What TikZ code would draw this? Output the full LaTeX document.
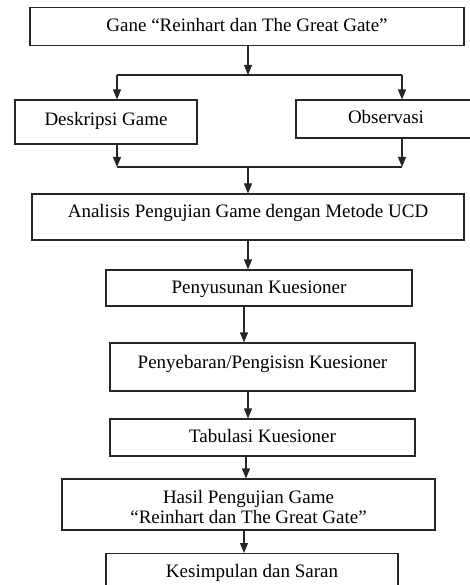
\documentclass[tikz,border=0pt]{standalone}
\usepackage{fontspec}
\setmainfont{Liberation Serif}
\usetikzlibrary{arrows.meta}
\begin{document}
\begin{tikzpicture}[x=1pt,y=-1pt,
  box/.style={draw=black!85,line width=1.1pt,rectangle,inner sep=0pt,align=center,font=\fontsize{19}{21}\selectfont,text height=13pt,text depth=3pt},
  flow/.style={draw=black!85,line width=1.1pt,-{Triangle[length=10pt,width=8pt]}},
  seg/.style={draw=black!85,line width=1.1pt}]
\useasboundingbox (0,0) rectangle (470,585);
\clip (0,0) rectangle (470,585);
\fill[white] (0,0) rectangle (470,585);
\node[box,minimum width=434pt,minimum height=38pt] (gane) at (247,26.5) {Gane “Reinhart dan The Great Gate”};
\node[box,minimum width=182pt,minimum height=44pt,text depth=5pt] (desk) at (106,122) {Deskripsi Game};
\node[box,minimum width=180pt,minimum height=38pt] (obs) at (386,119) {Observasi};
\node[box,minimum width=432pt,minimum height=46pt,text depth=13pt] (anal) at (248,217) {Analisis Pengujian Game dengan Metode UCD};
\node[box,minimum width=306pt,minimum height=36pt] (susun) at (259,288) {Penyusunan Kuesioner};
\node[box,minimum width=305pt,minimum height=48pt,text depth=11pt] (sebar) at (262.5,367) {Penyebaran/Pengisisn Kuesioner};
\node[box,minimum width=305pt,minimum height=37pt] (tab) at (262.5,437.5) {Tabulasi Kuesioner};
\node[box,minimum width=373pt,minimum height=51pt,text height=,text depth=] (hasil) at (248.5,504.5) {\rule{0pt}{19pt}Hasil Pengujian Game\\[-1pt]“Reinhart dan The Great Gate”};
\node[box,minimum width=292pt,minimum height=60pt,anchor=north] (simp) at (252,553) {};
\node[font=\fontsize{19}{21}\selectfont] (simptext) at (252,573) {Kesimpulan dan Saran};
\coordinate (split) at (248,75);
\coordinate (splitL) at (117,75);
\coordinate (splitR) at (402,75);
\coordinate (joinL) at (117,167);
\coordinate (joinR) at (402,167);
\coordinate (join) at (248,167);
\draw[flow] (gane.south -| split) -- (split);
\draw[seg] (splitL) -- (splitR);
\draw[flow] (splitL) -- (splitL |- desk.north);
\draw[flow] (splitR) -- (splitR |- obs.north);
\draw[flow] (desk.south -| joinL) -- (joinL);
\draw[flow] (obs.south -| joinR) -- (joinR);
\draw[seg] (joinL) -- (joinR);
\draw[flow] (join) -- (join |- anal.north);
\draw[flow] (anal.south -| 248,0) -- (susun.north -| 248,0);
\draw[flow] (susun.south -| 244,0) -- (sebar.north -| 244,0);
\draw[flow] (sebar.south -| 248,0) -- (tab.north -| 248,0);
\draw[flow] (tab.south -| 246,0) -- (hasil.north -| 246,0);
\draw[flow] (hasil.south -| 244,0) -- (simp.north -| 244,0);
\end{tikzpicture}
\end{document}
